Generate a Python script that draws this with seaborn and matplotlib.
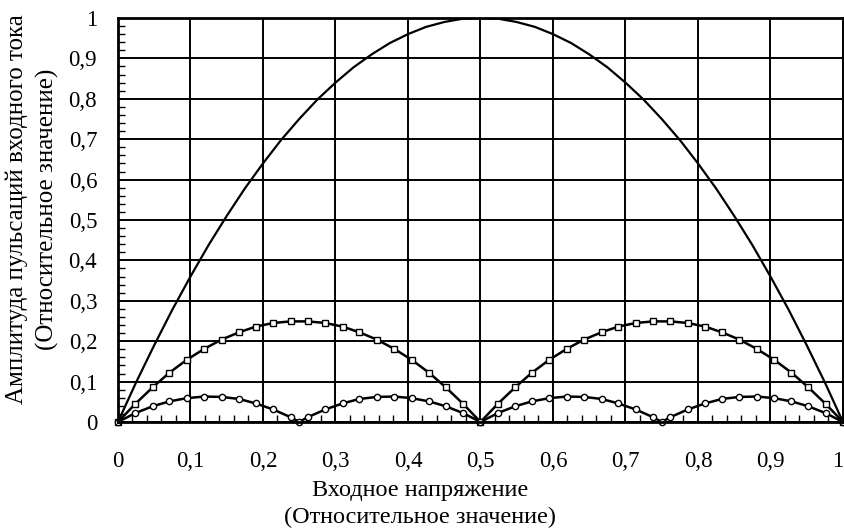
import pandas as pd
import seaborn as sns
import matplotlib.pyplot as plt
from matplotlib.ticker import FixedLocator, MultipleLocator

# Верхняя кривая (без маркеров)
x_main = [0, 0.025, 0.05, 0.075, 0.1, 0.125, 0.15, 0.175, 0.2, 0.225, 0.25,
          0.275, 0.3, 0.325, 0.35, 0.375, 0.4, 0.425, 0.45, 0.475, 0.5,
          0.525, 0.55, 0.575, 0.6, 0.625, 0.65, 0.675, 0.7, 0.725, 0.75,
          0.775, 0.8, 0.825, 0.85, 0.875, 0.9, 0.925, 0.95, 0.975, 1.0]
y_main = [0, 0.098, 0.19, 0.278, 0.36, 0.438, 0.51, 0.578, 0.64, 0.698, 0.75,
          0.798, 0.84, 0.878, 0.91, 0.938, 0.96, 0.978, 0.99, 0.998, 1.0,
          0.998, 0.99, 0.978, 0.96, 0.938, 0.91, 0.878, 0.84, 0.798, 0.75,
          0.698, 0.64, 0.578, 0.51, 0.438, 0.36, 0.278, 0.19, 0.098, 0]

# Кривая с квадратными маркерами
x_sq = [0, 0.024, 0.048, 0.071, 0.095, 0.119, 0.143, 0.167, 0.190, 0.214, 0.238,
        0.262, 0.286, 0.310, 0.333, 0.357, 0.381, 0.405, 0.429, 0.452, 0.476, 0.5,
        0.524, 0.548, 0.571, 0.595, 0.619, 0.643, 0.667, 0.690, 0.714, 0.738,
        0.762, 0.786, 0.810, 0.833, 0.857, 0.881, 0.905, 0.929, 0.952, 0.976, 1.0]
y_sq = [0, 0.045, 0.086, 0.122, 0.154, 0.181, 0.204, 0.222, 0.236, 0.245, 0.249,
        0.249, 0.245, 0.236, 0.222, 0.204, 0.181, 0.154, 0.122, 0.086, 0.045, 0,
        0.045, 0.086, 0.122, 0.154, 0.181, 0.204, 0.222, 0.236, 0.245, 0.249,
        0.249, 0.245, 0.236, 0.222, 0.204, 0.181, 0.154, 0.122, 0.086, 0.045, 0]

# Кривая с круглыми маркерами
x_ci = [0, 0.024, 0.048, 0.071, 0.095, 0.119, 0.143, 0.167, 0.190, 0.214, 0.238, 0.25,
        0.262, 0.286, 0.310, 0.333, 0.357, 0.381, 0.405, 0.429, 0.452, 0.476, 0.5,
        0.524, 0.548, 0.571, 0.595, 0.619, 0.643, 0.667, 0.690, 0.714, 0.738, 0.75,
        0.762, 0.786, 0.810, 0.833, 0.857, 0.881, 0.905, 0.929, 0.952, 0.976, 1.0]
y_ci = [0, 0.022, 0.039, 0.051, 0.059, 0.063, 0.062, 0.057, 0.046, 0.031, 0.012, 0,
        0.012, 0.031, 0.046, 0.057, 0.062, 0.063, 0.059, 0.051, 0.039, 0.022, 0,
        0.022, 0.039, 0.051, 0.059, 0.063, 0.062, 0.057, 0.046, 0.031, 0.012, 0,
        0.012, 0.031, 0.046, 0.057, 0.062, 0.063, 0.059, 0.051, 0.039, 0.022, 0]

tick_vals = [0, 0.1, 0.2, 0.3, 0.4, 0.5, 0.6, 0.7, 0.8, 0.9, 1.0]
tick_labels = ['0', '0,1', '0,2', '0,3', '0,4', '0,5', '0,6', '0,7', '0,8', '0,9', '1']

sns.set_theme(style="white")
plt.rcParams['font.family'] = ['Liberation Serif', 'DejaVu Serif']

fig = plt.figure(figsize=(8.45, 5.32), dpi=100)
ax = fig.add_axes([0.1396, 0.2068, 0.858, 0.7594])

ax.grid(True, which='major', color='black', linewidth=1.4)
ax.set_axisbelow(True)

sns.lineplot(x=x_main, y=y_main, ax=ax, color='black', linewidth=1.6, sort=False)
sns.lineplot(x=x_sq, y=y_sq, ax=ax, color='black', linewidth=1.8, sort=False,
             marker='s', markersize=4, markerfacecolor='white',
             markeredgecolor='black', markeredgewidth=1, clip_on=False)
sns.lineplot(x=x_ci, y=y_ci, ax=ax, color='black', linewidth=1.8, sort=False,
             marker='o', markersize=4.5, markerfacecolor='white',
             markeredgecolor='black', markeredgewidth=1, clip_on=False)

ax.set_xlim(0, 1)
ax.set_ylim(0, 1)
ax.xaxis.set_major_locator(FixedLocator(tick_vals))
ax.yaxis.set_major_locator(FixedLocator(tick_vals))
ax.set_xticklabels(tick_labels)
ax.set_yticklabels(tick_labels)
ax.xaxis.set_minor_locator(MultipleLocator(0.02))
ax.yaxis.set_minor_locator(MultipleLocator(0.02))
ax.tick_params(which='major', length=0, labelsize=16.5, colors='black')
ax.tick_params(axis='y', which='major', pad=15)
ax.tick_params(axis='x', which='major', pad=21)
ax.tick_params(which='minor', direction='in', length=5, width=1, color='black',
               bottom=True, left=True, top=False, right=False)
ax.get_xticklabels()[-1].set_ha('right')

for s in ax.spines.values():
    s.set_color('black')
    s.set_linewidth(2)

ax.set_xlabel('Входное напряжение\n(Относительное значение)', fontsize=17.5,
              color='black', linespacing=1.35)
ax.xaxis.set_label_coords(0.4166, -0.143, transform=ax.transAxes)
ax.xaxis.label.set_va('top')
ax.set_ylabel('Амплитуда пульсаций входного тока\n(Относительное значение)',
              fontsize=18, color='black', linespacing=1.4)
ax.yaxis.set_label_coords(-0.082, 0.527, transform=ax.transAxes)

fig.savefig('out.png', dpi=100, facecolor='white')
